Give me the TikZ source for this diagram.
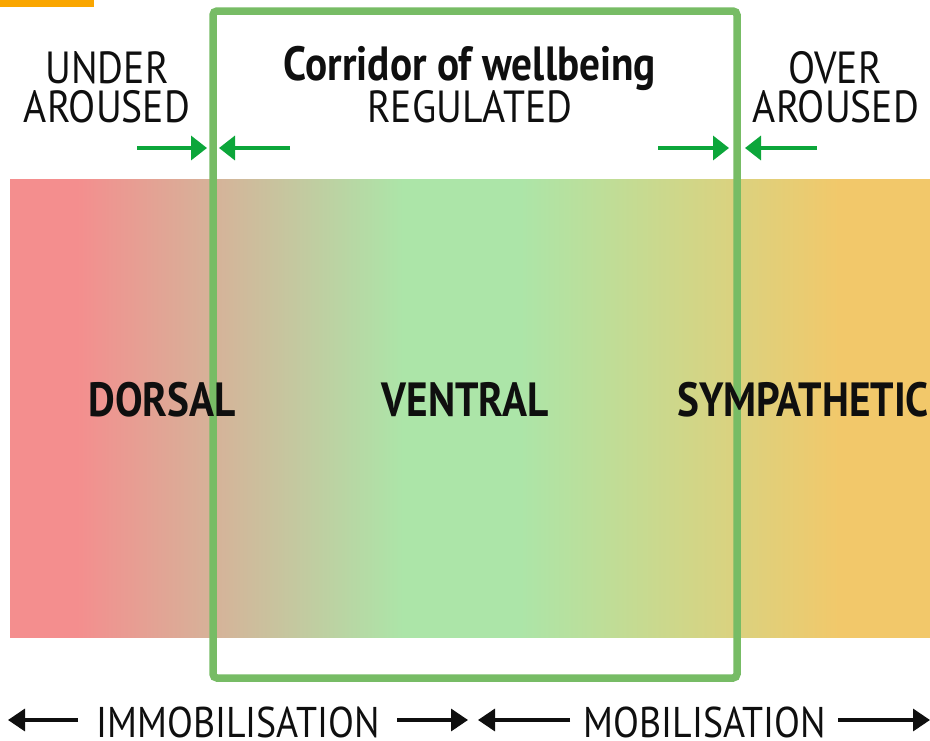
\documentclass[tikz,border=0pt]{standalone}
\usepackage{fontspec}
\setmainfont{PT Sans}[FakeStretch=0.86]
\newfontfamily\regf{PT Sans}[FakeStretch=0.88]
\usetikzlibrary{arrows.meta}
\definecolor{pinkc}{RGB}{244,142,142}
\definecolor{greenc}{RGB}{172,229,168}
\definecolor{orangec}{RGB}{242,200,106}
\definecolor{boxc}{RGB}{119,188,101}
\definecolor{arrc}{RGB}{12,166,58}
\definecolor{barc}{RGB}{250,166,0}
\definecolor{txt}{RGB}{15,15,15}
\pgfdeclarehorizontalshading{bandshade}{100bp}{color(0bp)=(pinkc); color(28.64bp)=(pinkc); color(46.36bp)=(greenc); color(52.72bp)=(greenc); color(70.22bp)=(orangec); color(100bp)=(orangec)}
\tikzset{
  lbl/.style={font=\regf\fontsize{45}{45}\selectfont, text=txt, anchor=base, inner sep=0pt},
  zone/.style={font=\fontsize{48}{48}\selectfont\bfseries, text=txt, anchor=base, inner sep=0pt},
  axis/.style={font=\regf\fontsize{43}{43}\selectfont, text=txt, anchor=base, inner sep=0pt},
  garrow/.style={draw=arrc, line width=3.5pt, -{Triangle[length=16pt,width=24pt]}},
  karrow/.style={draw=txt, line width=3.5pt, -{Triangle[length=17pt,width=22pt]}},
}
\begin{document}
\begin{tikzpicture}[x=1pt,y=-1pt]
\useasboundingbox (0,0) rectangle (930,740);
% orange bar
\fill[barc] (0,0) rectangle (94,7);
% gradient band
\shade[shading=bandshade] (10,179) rectangle (930,637);
% corridor box
\draw[boxc, line width=7.5pt, rounded corners=4pt] (213,11) rectangle (737,678);
% top texts
\node[lbl] (under) at (107,83) {UNDER};
\node[lbl] (aroL) at (107,122) {AROUSED};
\node[zone] (corr) at (470,80) {Corridor of wellbeing};
\node[lbl] (reg) at (470,122) {REGULATED};
\node[lbl] (over) at (835,83) {OVER};
\node[lbl] (aroR) at (836,122) {AROUSED};
% zone texts
\node[zone] (dorsal) at (162,416) {DORSAL};
\node[zone] (ventral) at (465,416) {VENTRAL};
\node[zone] (symp) at (803,416) {SYMPATHETIC};
% green arrows
\coordinate (g1s) at (137,148); \coordinate (g1e) at (207,148);
\coordinate (g2s) at (290,148); \coordinate (g2e) at (219,148);
\coordinate (g3s) at (658,148); \coordinate (g3e) at (729,148);
\coordinate (g4s) at (817,148); \coordinate (g4e) at (745,148);
\draw[garrow] (g1s) -- (g1e);
\draw[garrow] (g2s) -- (g2e);
\draw[garrow] (g3s) -- (g3e);
\draw[garrow] (g4s) -- (g4e);
% bottom axis
\node[axis] (immo) at (238,737) {IMMOBILISATION};
\node[axis] (mobi) at (705,737) {MOBILISATION};
\coordinate (k1s) at (78,720); \coordinate (k1e) at (8,720);
\coordinate (k2s) at (397,720); \coordinate (k2e) at (468,720);
\coordinate (k3s) at (570,720); \coordinate (k3e) at (478,720);
\coordinate (k4s) at (838,720); \coordinate (k4e) at (930,720);
\draw[karrow] (k1s) -- (k1e);
\draw[karrow] (k2s) -- (k2e);
\draw[karrow] (k3s) -- (k3e);
\draw[karrow] (k4s) -- (k4e);
\end{tikzpicture}
\end{document}
